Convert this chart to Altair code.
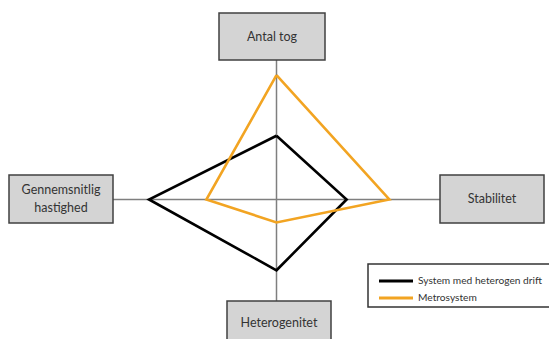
import altair as alt
import pandas as pd
import numpy as np

# Data
axes_names = ["Antal tog", "Stabilitet", "Heterogenitet", "Gennemsnitlig hastighed"]
series_names = ["System med heterogen drift", "Metrosystem"]
black_vals = [5.0, 5.5, 5.55, 10.0]
orange_vals = [9.75, 8.85, 1.8, 5.5]
colors = ["#000000", "#F2A422"]

# Layout (image pixel space)
CX, CY = 276.5, 199.5
K = 12.75  # px per unit
dirs = [(0, 1), (1, 0), (0, -1), (-1, 0)]

rows = []
for s, vals in zip(series_names, [black_vals, orange_vals]):
    for i in list(range(4)) + [0]:
        dx, dy = dirs[i]
        rows.append({"series": s, "order": len(rows),
                     "x": CX + vals[i] * K * dx, "y": CY - vals[i] * K * dy})
poly = pd.DataFrame(rows)

W, H = 541, 331
xs = alt.Scale(domain=[8, 8 + W], range=[0, W])
ys = alt.Scale(domain=[8, 8 + H], range=[0, H])

def X(f, **kw):
    return alt.X(f, type="quantitative", scale=xs, axis=None, **kw)

def Y(f, **kw):
    return alt.Y(f, type="quantitative", scale=ys, axis=None, **kw)

axis_lines = pd.DataFrame([
    {"x": CX, "x2": CX, "y": 60, "y2": 301},
    {"x": 113, "x2": 440, "y": CY, "y2": CY},
])
axes_layer = alt.Chart(axis_lines).mark_rule(color="#7f7f7f", strokeWidth=1.5).encode(
    x=X("x"), x2="x2", y=Y("y"), y2="y2")

boxes = pd.DataFrame([
    {"label": "Antal tog", "x": 219, "x2": 325, "y": 13, "y2": 60},
    {"label": "Stabilitet", "x": 440, "x2": 544, "y": 175, "y2": 223},
    {"label": "Heterogenitet", "x": 227, "x2": 331, "y": 301, "y2": 348},
    {"label": "Gennemsnitlig hastighed", "x": 9, "x2": 113, "y": 175, "y2": 223},
])
box_layer = alt.Chart(boxes).mark_rect(fill="#d4d4d4", stroke="#404040", strokeWidth=1.5).encode(
    x=X("x"), x2="x2", y=Y("y"), y2="y2")

labels = pd.DataFrame([
    {"t": "Antal tog", "x": 272, "y": 37},
    {"t": "Stabilitet", "x": 492, "y": 199},
    {"t": "Heterogenitet", "x": 279, "y": 323},
    {"t": "Gennemsnitlig", "x": 61, "y": 190},
    {"t": "hastighed", "x": 61, "y": 208},
])
label_layer = alt.Chart(labels).mark_text(font="Lato", fontSize=12.5, color="#333333",
                                          align="center", baseline="middle").encode(
    x=X("x"), y=Y("y"), text="t:N")

series_layer = alt.Chart(poly).mark_line(strokeWidth=2.6, strokeJoin="miter").encode(
    x=X("x"), y=Y("y"), order="order:Q",
    color=alt.Color("series:N", scale=alt.Scale(domain=series_names, range=colors), legend=None),
    detail="series:N")

leg_box = pd.DataFrame([{"x": 368, "x2": 558, "y": 264, "y2": 307}])
leg_box_layer = alt.Chart(leg_box).mark_rect(fill="white", stroke="#333333", strokeWidth=1.5).encode(
    x=X("x"), x2="x2", y=Y("y"), y2="y2")

leg = pd.DataFrame([
    {"series": series_names[0], "x": 379, "x2": 413, "y": 281, "tx": 418},
    {"series": series_names[1], "x": 379, "x2": 413, "y": 298, "tx": 418},
])
leg_lines = alt.Chart(leg).mark_rule(strokeWidth=3).encode(
    x=X("x"), x2="x2", y=Y("y"),
    color=alt.Color("series:N", scale=alt.Scale(domain=series_names, range=colors), legend=None))
leg_text = alt.Chart(leg).mark_text(font="Lato", fontSize=10.2, color="#333333",
                                    align="left", baseline="middle").encode(
    x=X("tx"), y=Y("y"), text="series:N")

chart = alt.layer(axes_layer, box_layer, label_layer, series_layer,
                  leg_box_layer, leg_lines, leg_text).properties(
    width=W, height=H, padding=0, autosize=alt.AutoSizeParams(type="none")
).configure_view(strokeWidth=0)

chart.save("out.html", embed_options={"renderer": "svg", "actions": False})
